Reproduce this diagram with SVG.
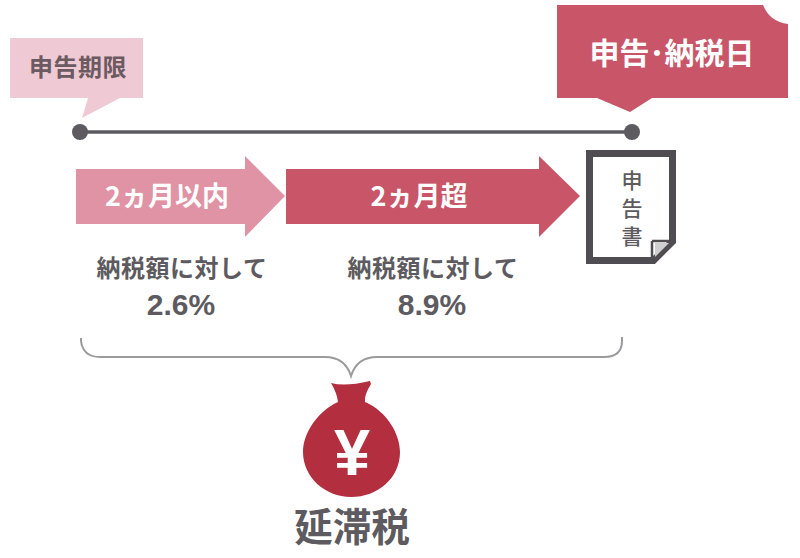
<svg xmlns="http://www.w3.org/2000/svg" width="800" height="558" viewBox="0 0 800 558">
<style>
text{font-family:"Noto Sans CJK JP","Liberation Sans",sans-serif;text-anchor:middle;font-weight:700}
.g{fill:#5d5b60}
.w{fill:#fff}
.n{font-family:"Liberation Sans",sans-serif}
.d{font-weight:500;font-size:21px;fill:#5d5b60}
</style>
<rect width="800" height="558" fill="#fff"/>
<g id="deadline"><path d="M10 38H143V98H120L82 118L88 98H10Z" fill="#efc9d3"/><text x="78" y="76" font-size="24" letter-spacing="0.500" fill="#6b5a62">申告期限</text></g>
<g id="payment-day"><path d="M557 5H763Q770 22 788 24V98H652L630 112L597 98H557Z" fill="#c85668"/><text x="672" y="64" font-size="30" class="w">申告･納税日</text></g>
<g id="connectors">
<line x1="80" y1="132" x2="632" y2="132" stroke="#5d5b60" stroke-width="3.500"/>
<circle cx="80" cy="132" r="8" class="g"/><circle cx="632" cy="132" r="8" class="g"/>
<path d="M81 338V341Q83 357 100 357H325Q345 357 351 376Q357 357 377 357H604Q622 357 622 341V337" fill="none" stroke="#9b9a9d" stroke-width="2"/>
</g>
<g id="within-2m"><path d="M76 169H245V156L285 196L245 237V224H76Z" fill="#e093a4"/><text x="167" y="206" font-size="27" class="w">2ヵ月以内</text></g>
<g id="over-2m"><path d="M286 169H539V156L580 196L539 237V224H286Z" fill="#c85668"/><text x="419" y="206" font-size="27" class="w">2ヵ月超</text></g>
<g id="return-doc"><path d="M589.500 153.500H672.500V241.500L653.500 260.500H589.500Z" fill="#fff" stroke="#4f4d52" stroke-width="7"/><path d="M655 243H669L655 257Z" fill="#cfcfd2"/><path d="M652 241V262M652 241H674" fill="none" stroke="#4f4d52" stroke-width="2.500"/>
<text class="d" x="632" y="188">申</text><text class="d" x="632" y="216">告</text><text class="d" x="632" y="244">書</text></g>
<g id="rate-1"><text x="182" y="277" font-size="24" class="g" letter-spacing="0.500">納税額に対して</text><text x="181" y="315" font-size="30" class="g n">2.6%</text></g>
<g id="rate-2"><text x="433" y="277" font-size="24" class="g" letter-spacing="0.500">納税額に対して</text><text x="432" y="315" font-size="30" class="g n">8.9%</text></g>
<g id="tax-bag"><path d="M331 383Q345 387 370 381L371 384Q364 395 365 402C388 412 400 435 400 452C400 478 378 497 351 497C325 497 303 477 303 452C303 433 318 411 338 402Q337 393 331 383Z" fill="#b32e3f"/>
<text x="352" y="475" font-size="65" class="w n">¥</text>
</g>
<g id="late-tax-label"><text x="352" y="541" font-size="38.500" class="g">延滞税</text></g>
</svg>
